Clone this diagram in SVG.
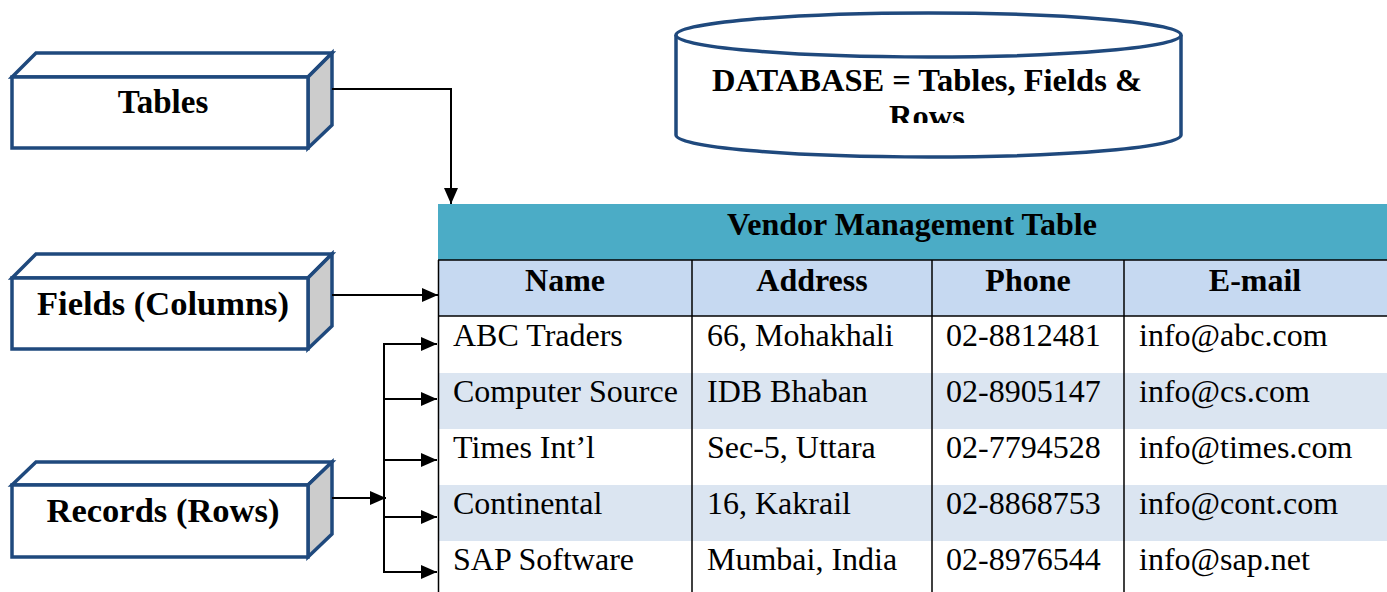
<svg xmlns="http://www.w3.org/2000/svg" width="1387" height="592" viewBox="0 0 1387 592">
<style>
.face{fill:#ffffff;stroke:#1f497d;stroke-width:3.5;stroke-linejoin:miter}
.side{fill:#cccccc;stroke:#1f497d;stroke-width:3.5}
.lbl{font-family:"Liberation Serif","Times New Roman",serif;font-weight:bold;fill:#000;text-anchor:middle}
.cell{font-family:"Liberation Serif","Times New Roman",serif;font-size:32px;fill:#000}
.hd{font-family:"Liberation Serif","Times New Roman",serif;font-size:32px;font-weight:bold;fill:#000;text-anchor:middle}
.conn{fill:none;stroke:#000;stroke-width:2}
.grid{stroke:#000;stroke-width:1.5}
</style>
<defs>
<marker id="ahb" markerWidth="16" markerHeight="14" refX="16" refY="7" orient="auto" markerUnits="userSpaceOnUse" viewBox="0 0 16 14">
<path d="M0,0 L16,7 L0,14 Z" fill="#000"/>
</marker>
<clipPath id="cylclip"><rect x="670" y="0" width="520" height="123"/></clipPath>
</defs>

<g id="database">
<path d="M676,35 L676,135 A252.5,22 0 0 0 1181,135 L1181,35" fill="#fff" stroke="#1f497d" stroke-width="3.5"/>
<ellipse cx="928.5" cy="35" rx="252.5" ry="22" fill="#fff" stroke="#1f497d" stroke-width="3.5"/>
<g clip-path="url(#cylclip)">
<text class="lbl" x="927" y="91" font-size="32.5">DATABASE = Tables, Fields &amp;</text>
<text class="lbl" x="927" y="127" font-size="32.5">Rows</text>
</g>
</g>

<g id="tables-box">
<path class="face" d="M12,77 L36,53 L332,53 L308,77 Z"/>
<path class="side" d="M308,77 L332,53 L332,125 L308,148 Z"/>
<rect class="face" x="12" y="77" width="296" height="71"/>
<text class="lbl" x="163" y="113" font-size="33">Tables</text>
</g>

<g id="fields-box">
<path class="face" d="M12,278 L36,254 L332,254 L308,278 Z"/>
<path class="side" d="M308,278 L332,254 L332,326 L308,349 Z"/>
<rect class="face" x="12" y="278" width="296" height="71"/>
<text class="lbl" x="163" y="315" font-size="34.5">Fields (Columns)</text>
</g>

<g id="records-box">
<path class="face" d="M12,485 L36,462 L332,462 L308,485 Z"/>
<path class="side" d="M308,485 L332,462 L332,534 L308,557 Z"/>
<rect class="face" x="12" y="485" width="296" height="72"/>
<text class="lbl" x="163" y="522" font-size="34.5">Records (Rows)</text>
</g>

<g id="vendor-table">
<rect x="438" y="204" width="949" height="56" fill="#4bacc6"/>
<rect x="438" y="260" width="949" height="56" fill="#c6d9f1"/>
<rect x="438" y="316" width="949" height="57" fill="#ffffff"/>
<rect x="438" y="373" width="949" height="56" fill="#dbe5f1"/>
<rect x="438" y="429" width="949" height="56" fill="#ffffff"/>
<rect x="438" y="485" width="949" height="56" fill="#dbe5f1"/>
<rect x="438" y="541" width="949" height="51" fill="#ffffff"/>
<line class="grid" x1="438" y1="260" x2="1387" y2="260"/>
<line class="grid" x1="438" y1="316" x2="1387" y2="316"/>
<line class="grid" x1="438.5" y1="260" x2="438.5" y2="592"/>
<line class="grid" x1="692" y1="260" x2="692" y2="592"/>
<line class="grid" x1="932" y1="260" x2="932" y2="592"/>
<line class="grid" x1="1124" y1="260" x2="1124" y2="592"/>
<text class="hd" x="912" y="235">Vendor Management Table</text>
<text class="hd" x="565" y="291">Name</text>
<text class="hd" x="812" y="291">Address</text>
<text class="hd" x="1028" y="291">Phone</text>
<text class="hd" x="1255" y="291">E-mail</text>
<text class="cell" x="453" y="346">ABC Traders</text>
<text class="cell" x="707" y="346">66, Mohakhali</text>
<text class="cell" x="946" y="346">02-8812481</text>
<text class="cell" x="1139" y="346">info@abc.com</text>
<text class="cell" x="453" y="402">Computer Source</text>
<text class="cell" x="707" y="402">IDB Bhaban</text>
<text class="cell" x="946" y="402">02-8905147</text>
<text class="cell" x="1139" y="402">info@cs.com</text>
<text class="cell" x="453" y="458">Times Int’l</text>
<text class="cell" x="707" y="458">Sec-5, Uttara</text>
<text class="cell" x="946" y="458">02-7794528</text>
<text class="cell" x="1139" y="458">info@times.com</text>
<text class="cell" x="453" y="514">Continental</text>
<text class="cell" x="707" y="514">16, Kakrail</text>
<text class="cell" x="946" y="514">02-8868753</text>
<text class="cell" x="1139" y="514">info@cont.com</text>
<text class="cell" x="453" y="570">SAP Software</text>
<text class="cell" x="707" y="570">Mumbai, India</text>
<text class="cell" x="946" y="570">02-8976544</text>
<text class="cell" x="1139" y="570">info@sap.net</text>
</g>

<g id="connectors">
<polyline class="conn" points="332,89 451,89 451,204" marker-end="url(#ahb)"/>
<line class="conn" x1="332" y1="295" x2="438" y2="295" marker-end="url(#ahb)"/>
<line class="conn" x1="332" y1="498" x2="386" y2="498" marker-end="url(#ahb)"/>
<line class="conn" x1="384" y1="344" x2="384" y2="572"/>
<line class="conn" x1="383" y1="344" x2="437" y2="344" marker-end="url(#ahb)"/>
<line class="conn" x1="383" y1="399" x2="437" y2="399" marker-end="url(#ahb)"/>
<line class="conn" x1="383" y1="460" x2="437" y2="460" marker-end="url(#ahb)"/>
<line class="conn" x1="383" y1="517" x2="437" y2="517" marker-end="url(#ahb)"/>
<line class="conn" x1="383" y1="572" x2="437" y2="572" marker-end="url(#ahb)"/>
</g>
</svg>
